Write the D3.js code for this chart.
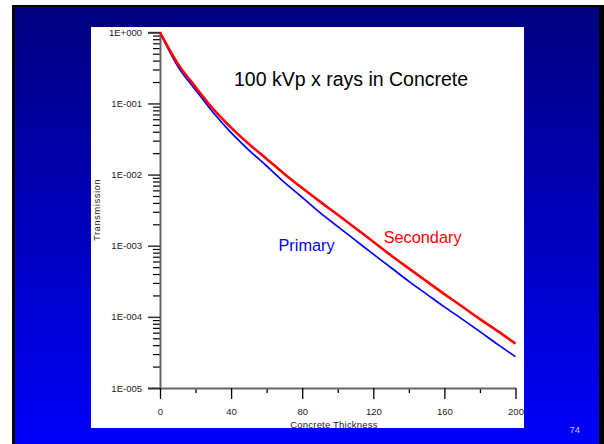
<!DOCTYPE html>
<html>
<head>
<meta charset="utf-8">
<script src="https://cdn.jsdelivr.net/npm/d3@7"></script>
<style>
  html, body { margin: 0; padding: 0; background: #fff; }
  svg { display: block; }
  text { font-family: Arial, "Liberation Sans", Helvetica, sans-serif; }
</style>
</head>
<body>
<svg id="chart" width="604" height="444"></svg>
<script>
// Concrete thickness (x) and transmission for the two beams
const thickness = [0, 10, 20, 30, 40, 50, 60, 70, 80, 90, 100, 110, 120, 130, 140, 150, 160, 170, 180, 190, 200];
const primary = [1, 0.334, 0.155, 0.0741, 0.0389, 0.0221, 0.0132, 0.00776, 0.00479, 0.00292, 0.00186,
  0.00119, 0.00076, 0.00049, 0.000316, 0.000209, 0.000138, 0.000093, 0.000062, 0.000041, 0.0000275];
const secondary = [1, 0.363, 0.170, 0.0832, 0.0457, 0.0269, 0.0166, 0.0102, 0.00646, 0.00417, 0.00272,
  0.00176, 0.00114, 0.00073, 0.00048, 0.000316, 0.000209, 0.000140, 0.000093, 0.000063, 0.000042];

const xTicks = [0, 40, 80, 120, 160, 200];
const xMinorTicks = [20, 60, 100, 140, 180];
const yTicks = [1, 1e-1, 1e-2, 1e-3, 1e-4, 1e-5];
const yTickLabels = ["1E+000", "1E-001", "1E-002", "1E-003", "1E-004", "1E-005"];

const svg = d3.select("#chart");

// slide background: black frame with a navy-to-blue gradient
const defs = svg.append("defs");
const grad = defs.append("linearGradient").attr("id", "slideGrad")
  .attr("x1", 0).attr("y1", 0).attr("x2", 0).attr("y2", 1);
grad.append("stop").attr("offset", "0%").attr("stop-color", "#000080");
grad.append("stop").attr("offset", "100%").attr("stop-color", "#0000FA");

svg.append("rect").attr("x", 12).attr("y", 5).attr("width", 592).attr("height", 439).attr("fill", "#000");
svg.append("rect").attr("x", 15).attr("y", 7).attr("width", 584).attr("height", 437).attr("fill", "url(#slideGrad)");

// white chart panel
svg.append("rect").attr("x", 91).attr("y", 27).attr("width", 433).attr("height", 401).attr("fill", "#fff");

const x = d3.scaleLinear().domain([0, 200]).range([160, 515.5]);
const y = d3.scaleLog().domain([1e-5, 1]).range([388, 32.3]);

// minor y ticks (2..9 within each decade)
const yMinor = [];
for (let e = -5; e < 0; e++) for (let m = 2; m <= 9; m++) yMinor.push(m * Math.pow(10, e));

const yMinorAxis = svg.append("g").attr("transform", `translate(${x(0)},0)`)
  .call(d3.axisLeft(y).tickValues(yMinor).tickSize(7).tickFormat(""));
yMinorAxis.select(".domain").remove();
yMinorAxis.selectAll("line").attr("stroke", "#000").attr("stroke-width", 1.2);

const yAxis = svg.append("g").attr("transform", `translate(${x(0)},0)`)
  .call(d3.axisLeft(y).tickValues(yTicks).tickSize(12).tickPadding(6)
    .tickFormat((d, i) => yTickLabels[i]));
yAxis.select(".domain").attr("stroke", "#666").attr("stroke-width", 2);
yAxis.selectAll("line").attr("stroke", "#333").attr("stroke-width", 1.5);
yAxis.selectAll("text").attr("font-size", 9.5).attr("fill", "#222")
  .attr("font-family", "Arial, 'Liberation Sans', sans-serif");

const xMinorAxis = svg.append("g").attr("transform", `translate(0,${y(1e-5)})`)
  .call(d3.axisBottom(x).tickValues(xMinorTicks).tickSize(5).tickFormat(""));
xMinorAxis.select(".domain").remove();
xMinorAxis.selectAll("line").attr("stroke", "#000").attr("stroke-width", 1.3);

const xAxis = svg.append("g").attr("transform", `translate(0,${y(1e-5)})`)
  .call(d3.axisBottom(x).tickValues(xTicks).tickSize(11).tickPadding(9).tickSizeOuter(0)
    .tickFormat(d3.format("d")));
xAxis.select(".domain").attr("stroke", "#666").attr("stroke-width", 2);
xAxis.selectAll("line").attr("stroke", "#000").attr("stroke-width", 1.3);
xAxis.selectAll("text").attr("font-size", 9.5).attr("fill", "#222")
  .attr("font-family", "Arial, 'Liberation Sans', sans-serif");

// axis titles
svg.append("text").attr("x", 334).attr("y", 427.5).attr("text-anchor", "middle")
  .attr("font-size", 9.5).attr("letter-spacing", 0.2).attr("fill", "#222").text("Concrete Thickness");
svg.append("text").attr("transform", "translate(99.5,210) rotate(-90)").attr("text-anchor", "middle")
  .attr("font-size", 9.5).attr("letter-spacing", 0.5).attr("fill", "#222").text("Transmission");

// transmission curves
const line = d3.line().x((d, i) => x(thickness[i])).y(d => y(d)).curve(d3.curveMonotoneX);
svg.append("path").datum(primary).attr("d", line)
  .attr("fill", "none").attr("stroke", "#0000FF").attr("stroke-width", 1.7);
svg.append("path").datum(secondary).attr("d", line)
  .attr("fill", "none").attr("stroke", "#FF0000").attr("stroke-width", 2.6);

// labels
svg.append("text").attr("x", 234).attr("y", 86).attr("font-size", 19.5).attr("fill", "#000")
  .text("100 kVp x rays in Concrete");
svg.append("text").attr("x", 278.5).attr("y", 251).attr("font-size", 16.3).attr("fill", "#0000FF")
  .text("Primary");
svg.append("text").attr("x", 383.7).attr("y", 243).attr("font-size", 16.3).attr("fill", "#FF0000")
  .text("Secondary");

// slide number
svg.append("text").attr("x", 574.7).attr("y", 432.5).attr("text-anchor", "middle")
  .attr("font-size", 9.5).attr("fill", "#C8C8F0").text("74");
</script>
</body>
</html>
